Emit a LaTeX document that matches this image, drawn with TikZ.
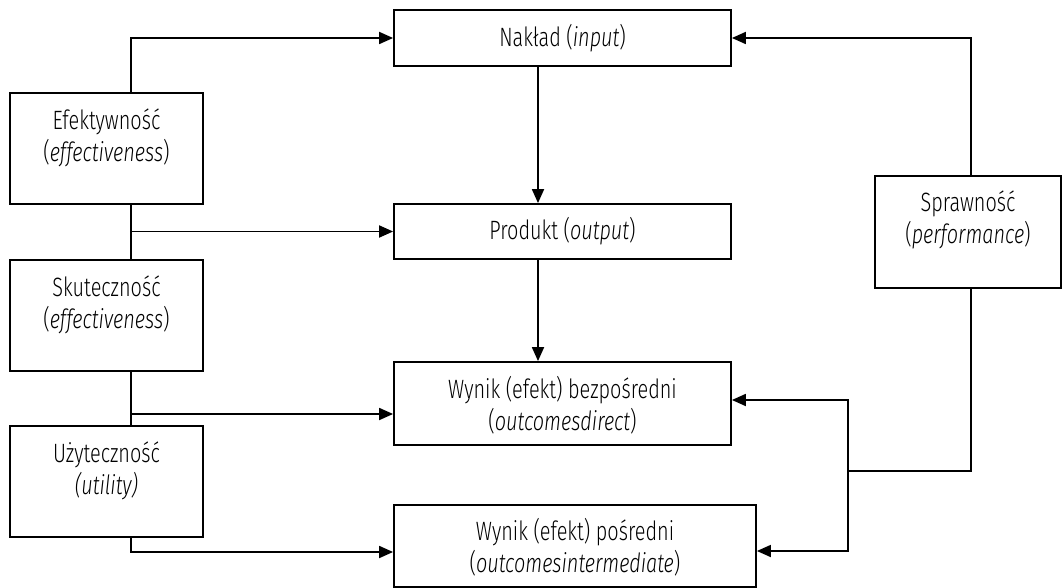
\documentclass[tikz,border=0pt]{standalone}
\usepackage{fontspec}
\setmainfont{Fira Sans Light}[ItalicFont={Fira Sans Light Italic}, FakeStretch=0.75]
\usetikzlibrary{arrows.meta}
\begin{document}
\begin{tikzpicture}[x=1pt,y=-1pt,
  box/.style={draw,line width=1.8pt,inner sep=0pt},
  lbl/.style={align=center,font=\fontsize{26.5}{32}\selectfont,inner sep=0pt},
  conn/.style={line width=1.8pt},
  arr/.style={conn,-{Triangle[length=14pt,width=12pt]}}]
\useasboundingbox (0,0) rectangle (1062,588);
% boxes
\node[box,minimum width=193,minimum height=111] (ef) at (106.5,148.5) {};
\node[box,minimum width=193,minimum height=111] (sk) at (106.5,315.5) {};
\node[box,minimum width=193,minimum height=111] (uz) at (106.5,481.5) {};
\node[box,minimum width=337,minimum height=56] (nak) at (562.5,38) {};
\node[box,minimum width=337,minimum height=55] (prod) at (562.5,231.5) {};
\node[box,minimum width=337,minimum height=83] (wb) at (562.5,403.5) {};
\node[box,minimum width=362,minimum height=82] (wp) at (575,546) {};
\node[box,minimum width=186,minimum height=112] (sp) at (968,232) {};
% labels
\node[lbl] (efT) at ([yshift=11]ef.center) {Efektywność\\(\textit{effectiveness})};
\node[lbl] (skT) at ([yshift=11]sk.center) {Skuteczność\\(\textit{effectiveness})};
\node[lbl] (uzT) at ([yshift=11]uz.center) {Użyteczność\\\textit{(utility)}};
\node[lbl] (spT) at ([yshift=12]sp.center) {Sprawność\\(\textit{performance})};
\node[lbl] (nakT) at (nak.center) {Nakład (\textit{input})};
\node[lbl] (prodT) at (prod.center) {Produkt (\textit{output})};
\node[lbl] (wbT) at ([yshift=-2]wb.center) {Wynik (efekt) bezpośredni\\(\textit{outcomesdirect})};
\node[lbl] (wpT) at ([yshift=-1]wp.center) {Wynik (efekt) pośredni\\(\textit{outcomesintermediate})};
% helper coordinates
\coordinate (spine) at (131,0);
\coordinate (mid) at (538,0);
\coordinate (rs) at (971,0);
\coordinate (jn) at (848,471);
\coordinate (ywb) at (0,414);
\coordinate (ywp) at (0,552);
\coordinate (ywbR) at (0,400);
\coordinate (ywpR) at (0,551);
% left connectors
\draw[arr] (spine |- ef.north) |- (nak.west);
\draw[conn] (spine |- ef.south) -- (spine |- sk.north);
\draw[arr] (spine |- prod.west) -- (prod.west);
\draw[conn] (spine |- sk.south) -- (spine |- uz.north);
\draw[arr] (spine |- ywb) -- (wb.west |- ywb);
\draw[arr] (spine |- uz.south) |- (wp.west |- ywp);
% center connectors
\draw[arr] (mid |- nak.south) -- (mid |- prod.north);
\draw[arr] (mid |- prod.south) -- (mid |- wb.north);
% right connectors
\draw[arr] (rs |- sp.north) |- (nak.east);
\draw[conn] (rs |- sp.south) |- (jn);
\draw[arr] (jn) |- (wb.east |- ywbR);
\draw[arr] (jn) |- (wp.east |- ywpR);
\end{tikzpicture}
\end{document}
